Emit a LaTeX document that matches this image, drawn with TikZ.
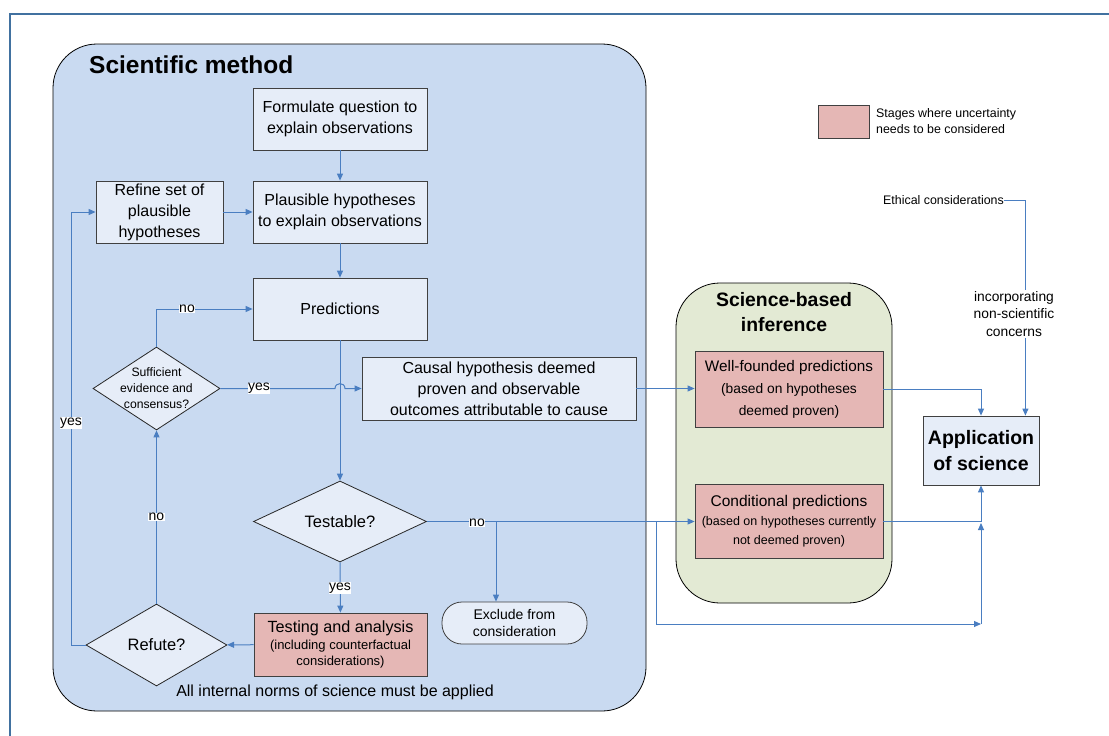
\documentclass[tikz,border=0pt]{standalone}
\usepackage{fontspec}
\setmainfont{Liberation Sans}
\usetikzlibrary{arrows.meta,shapes.geometric}
\definecolor{lineblue}{RGB}{74,126,193}
\definecolor{frameblue}{RGB}{65,113,160}
\definecolor{smfill}{RGB}{201,218,241}
\definecolor{boxfill}{RGB}{230,237,248}
\definecolor{pinkfill}{RGB}{229,183,181}
\definecolor{greenfill}{RGB}{227,234,212}
\newcommand\fsz[2]{\fontsize{#1}{#2}\selectfont}
\begin{document}
\begin{tikzpicture}[x=1pt,y=-1pt,
  box/.style={draw=black!75, fill=boxfill, line width=0.8pt, inner sep=0pt, align=center, font=\fsz{16}{21}},
  pinkbox/.style={box, fill=pinkfill},
  dia/.style={draw=black!85, fill=boxfill, diamond, inner sep=0pt, line width=0.8pt},
  conn/.style={draw=lineblue, line width=1pt},
  arr/.style={conn, -{Triangle[length=7pt,width=6pt]}},
  lab/.style={fill=white, inner sep=0.6pt, font=\fsz{14}{15}},
  group/.style={draw=black, line width=0.8pt, rounded corners=44pt, inner sep=0pt},
]
\useasboundingbox (0,0) rectangle (1109,736);
\draw[frameblue, line width=2pt] (10,736) -- (10,14) -- (1109,14);

% group backgrounds
\node[group, fill=smfill, minimum width=593pt, minimum height=667pt] (sm) at (349.5,377.5) {};
\node[group, fill=greenfill, minimum width=216pt, minimum height=320pt] (sbi) at (784,443) {};
\node[anchor=west, font=\fsz{24.5}{28}\bfseries, inner sep=0pt] (smtitle) at (89,65) {Scientific method};
\node[align=center, font=\fsz{19.4}{25}\bfseries, inner sep=0pt] (sbititle) at (784,312) {Science-based\\inference};

% legend
\node[pinkbox, minimum width=51pt, minimum height=33pt] (legbox) at (843.5,121.5) {};
\node[anchor=west, align=left, font=\fsz{12.4}{16}, inner sep=0pt] (legtext) at (876,121.5) {Stages where uncertainty\\needs to be considered};

% nodes
\node[box, minimum width=174pt, minimum height=62pt] (form) at (340,119) {Formulate question to\\explain observations};
\node[box, minimum width=174pt, minimum height=62pt] (plaus) at (340,212) {Plausible hypotheses\\to explain observations};
\node[box, minimum width=127pt, minimum height=62pt] (refine) at (159.5,212) {Refine set of\\plausible\\hypotheses};
\node[box, minimum width=174pt, minimum height=62pt] (pred) at (340,309) {Predictions};
\node[box, minimum width=274pt, minimum height=63pt] (causal) at (499,388.5) {Causal hypothesis deemed\\proven and observable\\outcomes attributable to cause};
\node[dia, minimum width=127pt, minimum height=83pt,
  label={[align=center, font=\fsz{12.2}{16}]center:Sufficient\\evidence and\\consensus?}] (suff) at (156.5,388.5) {};
\node[dia, minimum width=173pt, minimum height=81pt,
  label={[font=\fsz{16.5}{20}]center:Testable?}] (testable) at (340,521.5) {};
\node[pinkbox, minimum width=173pt, minimum height=63pt, font=\fsz{13}{16.5}] (testing) at (340.5,644.5)
  {\fsz{16.2}{16.5}Testing and analysis\\\fsz{13}{16.5}(including counterfactual\\\fsz{13}{16.5}considerations)};
\node[dia, minimum width=141pt, minimum height=82pt,
  label={[font=\fsz{16.5}{20}]center:Refute?}] (refute) at (156.5,645) {};
\node[box, rounded corners=20pt, minimum width=145pt, minimum height=42pt, font=\fsz{14}{17}] (exclude) at (514.5,623) {Exclude from\\consideration};
\node[pinkbox, minimum width=188pt, minimum height=76pt, font=\fsz{13.8}{22}] (wellf) at (789,389)
  {\fsz{15.3}{22}Well-founded predictions\\\fsz{13.8}{22}(based on hypotheses\\\fsz{13.8}{22}deemed proven)};
\node[pinkbox, minimum width=188pt, minimum height=74pt, font=\fsz{12.5}{19}] (cond) at (789,521)
  {\fsz{15.5}{19}Conditional predictions\\\fsz{12.5}{19}(based on hypotheses currently\\\fsz{12.5}{19}not deemed proven)};
\node[box, minimum width=116pt, minimum height=69pt, font=\fsz{19.5}{26}\bfseries] (app) at (981,450.5) {Application\\of science};
\node[anchor=east, font=\fsz{12.4}{15}, inner sep=0pt] (ethical) at (1004,200) {Ethical considerations};
\node[font=\fsz{16}{19}, inner sep=0pt] (norms) at (335,692) {All internal norms of science must be applied};

% connectors
\draw[arr] (form) -- (plaus);
\draw[arr] (refine) -- (plaus);
\draw[arr] (plaus) -- (pred);
\draw[arr] (pred) -- (testable);
\draw[arr] (testable) -- (testing);
\draw[arr] (testing) -- (refute);
\draw[arr] (refute) -- (suff);
\draw[arr] (suff.north) |- (pred.west);
\coordinate (yesturn) at (71,645);
\draw[arr] (refute.west) -- (yesturn) |- (refine.west);
\coordinate (hopa) at (335,388.5);
\coordinate (hopb) at (345,388.5);
\draw[arr] (suff.east) -- (hopa) .. controls (335,382) and (345,382) .. (hopb) -- (causal.west |- hopb);
\draw[arr] (causal.east) -- (wellf.west |- causal.east);
\draw[arr] (testable.east) -- (cond.west |- testable.east);
\coordinate (br1) at (496,521.5);
\coordinate (br2) at (656,521.5);
\coordinate (br3) at (981,624);
\coordinate (br4) at (981,523);
\draw[arr] (br1) -- (br1 |- exclude.north);
\draw[arr] (br2) |- (br3);
\draw[arr] (br3) -- (br4);
\draw[arr] (wellf.east) -| (app.north);
\draw[arr] (cond.east) -| (app.south);
\draw[arr] (ethical.east) -| ([xshift=-14pt]app.north east);

% labels
\node[lab] (lno1) at (187,309) {no};
\node[lab] (lyes1) at (259,388.5) {yes};
\node[lab] (lyes2) at (71,423) {yes};
\node[lab] (lno2) at (156.5,517) {no};
\node[lab] (lyes3) at (340,588) {yes};
\node[lab] (lno3) at (477,523) {no};
\node[fill=white, align=center, inner sep=1pt, font=\fsz{13.8}{17.5}] (incorp) at (1014,314) {incorporating\\non-scientific\\concerns};
\end{tikzpicture}
\end{document}
